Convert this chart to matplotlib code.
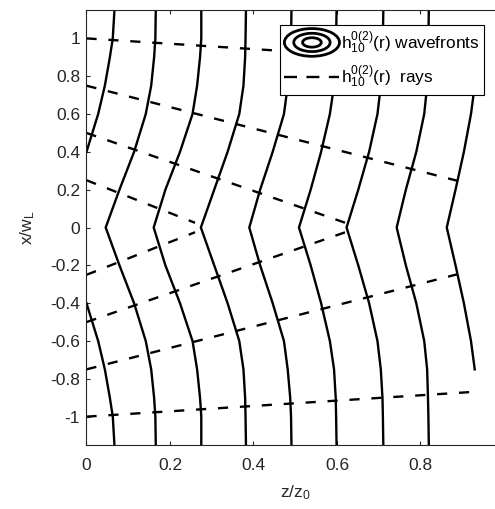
import numpy as np
import matplotlib
matplotlib.use('Agg')
import matplotlib.pyplot as plt
from matplotlib.patches import Ellipse
from matplotlib.lines import Line2D
from matplotlib.legend_handler import HandlerBase

plt.rcParams['font.family'] = ['Liberation Sans', 'DejaVu Sans']
plt.rcParams['mathtext.default'] = 'regular'
plt.rcParams['font.size'] = 12.5

# |x|/w_L levels at which the wavefronts were read (curves are symmetric in x)
X_LEVELS = [0.0, 0.2, 0.4, 0.6, 0.75, 0.9, 1.0, 1.15]

# z/z0 of each wavefront at those levels
WAVEFRONTS = [
    [-0.085, -0.040, 0.000, 0.028, 0.044, 0.056, 0.063, 0.067],
    [0.046, 0.079, 0.114, 0.142, 0.155, 0.162, 0.165, 0.166],
    [0.161, 0.189, 0.224, 0.254, 0.265, 0.272, 0.275, 0.275],
    [0.274, 0.306, 0.338, 0.366, 0.376, 0.380, 0.381, 0.382],
    [0.390, 0.416, 0.446, 0.473, 0.482, 0.488, 0.490, 0.491],
    [0.509, 0.537, 0.562, 0.583, 0.593, 0.597, 0.598, 0.599],
    [0.623, 0.651, 0.677, 0.697, 0.705, 0.709, 0.710, 0.711],
    [0.743, 0.765, 0.790, 0.809, 0.816, 0.818, 0.819, 0.820],
    [0.863, 0.884, 0.904, 0.921, 0.930, np.nan, np.nan, np.nan],
]

# rays: start height at z=0 and end point (upper half, mirrored below)
RAY_X0 = [0.25, 0.5, 0.75, 1.0]
RAY_Z_END = [0.26, 0.62, 0.91, 0.92]
RAY_X_END = [0.025, 0.025, 0.235, 0.87]

X_TICKS = [0, 0.2, 0.4, 0.6, 0.8]
X_TICKLABELS = ['0', '0.2', '0.4', '0.6', '0.8']
Y_TICKS = [-1, -0.8, -0.6, -0.4, -0.2, 0, 0.2, 0.4, 0.6, 0.8, 1]
Y_TICKLABELS = ['-1', '-0.8', '-0.6', '-0.4', '-0.2', '0', '0.2', '0.4', '0.6', '0.8', '1']

AX_COLOR = '#262626'
LW = 1.7
DASH = (4.3, 5.0)


class HandlerRings(HandlerBase):
    """contour-style legend icon: three concentric ellipses"""
    def create_artists(self, legend, orig_handle, xdescent, ydescent,
                       width, height, fontsize, trans):
        cx = width / 2 - xdescent
        cy = height / 2 - ydescent
        arts = []
        for f in (1.0, 0.66, 0.34):
            arts.append(Ellipse((cx, cy), width * f, height * 2.3 * f,
                                fill=False, ec='k', lw=2.0, transform=trans))
        return arts


fig = plt.figure(figsize=(4.95, 5.09), dpi=100)
ax = fig.add_axes([0.1747, 0.1257, 0.8434, 0.8546])

xl = np.array(X_LEVELS)
xs = np.concatenate([-xl[::-1], xl[1:]])
for row in WAVEFRONTS:
    zr = np.array(row)
    zs = np.concatenate([zr[::-1], zr[1:]])
    ax.plot(zs, xs, color='k', lw=LW, solid_joinstyle='miter')

for x0, ze, xe in zip(RAY_X0, RAY_Z_END, RAY_X_END):
    for s in (1, -1):
        ax.plot([0, ze], [s * x0, s * xe], color='k', lw=LW,
                dashes=DASH, dash_capstyle='butt')

ax.set_xlim(0, 1)
ax.set_ylim(-1.15, 1.15)
ax.set_xticks(X_TICKS)
ax.set_xticklabels(X_TICKLABELS)
ax.set_yticks(Y_TICKS)
ax.set_yticklabels(Y_TICKLABELS)
ax.tick_params(direction='in', top=True, right=True, length=3,
               width=0.8, colors=AX_COLOR, labelsize=12.5)
ax.tick_params(axis='x', pad=9)
ax.tick_params(axis='y', pad=4.5)
for sp in ax.spines.values():
    sp.set_color(AX_COLOR)
    sp.set_linewidth(0.8)

ax.set_xlabel('z/z$_0$', color=AX_COLOR, fontsize=12.5)
ax.set_ylabel('x/w$_L$', color=AX_COLOR, fontsize=12.5)
ax.xaxis.set_label_coords(0.5, -0.088)
ax.yaxis.set_label_coords(-0.118, 0.5)

h_wave = Line2D([], [], color='k')
h_ray = Line2D([], [], color='k', lw=LW, dashes=(5.5, 4.0))
leg = ax.legend([h_wave, h_ray],
                ['h$_{10}^{0(2)}$(r) wavefronts', 'h$_{10}^{0(2)}$(r)  rays'],
                handler_map={h_wave: HandlerRings()},
                loc='upper right', bbox_to_anchor=(484 / 495, 1 - 25 / 509),
                bbox_transform=fig.transFigure, borderaxespad=0,
                fancybox=False, framealpha=1, edgecolor='k',
                handlelength=3.2, handletextpad=0.1, borderpad=0.25,
                labelspacing=0.5, fontsize=12.4)
leg.get_frame().set_linewidth(0.8)

fig.savefig('out.png', dpi=100)
